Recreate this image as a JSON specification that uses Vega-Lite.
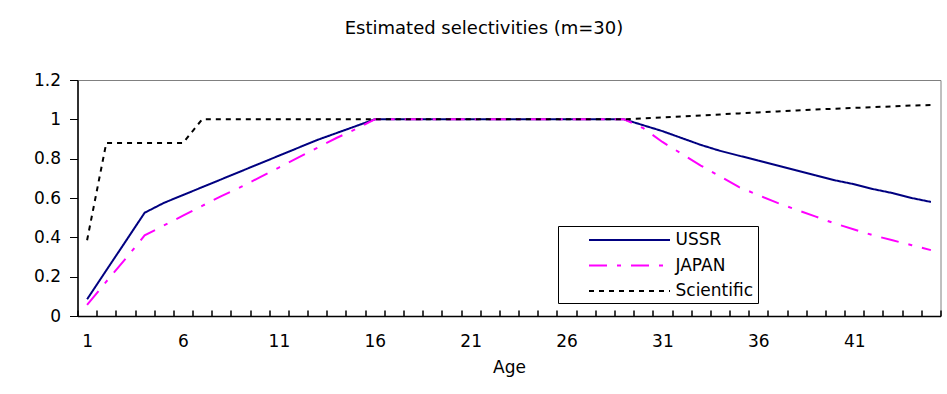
{
  "$schema": "https://vega.github.io/schema/vega-lite/v6.json",
  "width": 863,
  "height": 236,
  "autosize": {"type": "none"},
  "padding": {"left": 77.5, "top": 80, "right": 6.5, "bottom": 78},
  "background": "white",
  "title": {"text": "Estimated selectivities (m=30)", "font": "DejaVu Sans", "fontSize": 18, "fontWeight": "normal", "color": "black", "anchor": "middle", "dx": -25, "offset": 33},
  "data": {"values": [
    {"Age": 1, "USSR": 0.085, "JAPAN": 0.056, "Scientific": 0.385},
    {"Age": 2, "USSR": 0.232, "JAPAN": 0.175, "Scientific": 0.88},
    {"Age": 3, "USSR": 0.378, "JAPAN": 0.29, "Scientific": 0.88},
    {"Age": 4, "USSR": 0.525, "JAPAN": 0.41, "Scientific": 0.88},
    {"Age": 5, "USSR": 0.575, "JAPAN": 0.46, "Scientific": 0.88},
    {"Age": 6, "USSR": 0.615, "JAPAN": 0.51, "Scientific": 0.88},
    {"Age": 7, "USSR": 0.655, "JAPAN": 0.56, "Scientific": 1.0},
    {"Age": 8, "USSR": 0.695, "JAPAN": 0.61, "Scientific": 1.0},
    {"Age": 9, "USSR": 0.735, "JAPAN": 0.655, "Scientific": 1.0},
    {"Age": 10, "USSR": 0.775, "JAPAN": 0.705, "Scientific": 1.0},
    {"Age": 11, "USSR": 0.815, "JAPAN": 0.755, "Scientific": 1.0},
    {"Age": 12, "USSR": 0.855, "JAPAN": 0.805, "Scientific": 1.0},
    {"Age": 13, "USSR": 0.895, "JAPAN": 0.855, "Scientific": 1.0},
    {"Age": 14, "USSR": 0.93, "JAPAN": 0.905, "Scientific": 1.0},
    {"Age": 15, "USSR": 0.965, "JAPAN": 0.95, "Scientific": 1.0},
    {"Age": 16, "USSR": 1.0, "JAPAN": 1.0, "Scientific": 1.0},
    {"Age": 17, "USSR": 1.0, "JAPAN": 1.0, "Scientific": 1.0},
    {"Age": 18, "USSR": 1.0, "JAPAN": 1.0, "Scientific": 1.0},
    {"Age": 19, "USSR": 1.0, "JAPAN": 1.0, "Scientific": 1.0},
    {"Age": 20, "USSR": 1.0, "JAPAN": 1.0, "Scientific": 1.0},
    {"Age": 21, "USSR": 1.0, "JAPAN": 1.0, "Scientific": 1.0},
    {"Age": 22, "USSR": 1.0, "JAPAN": 1.0, "Scientific": 1.0},
    {"Age": 23, "USSR": 1.0, "JAPAN": 1.0, "Scientific": 1.0},
    {"Age": 24, "USSR": 1.0, "JAPAN": 1.0, "Scientific": 1.0},
    {"Age": 25, "USSR": 1.0, "JAPAN": 1.0, "Scientific": 1.0},
    {"Age": 26, "USSR": 1.0, "JAPAN": 1.0, "Scientific": 1.0},
    {"Age": 27, "USSR": 1.0, "JAPAN": 1.0, "Scientific": 1.0},
    {"Age": 28, "USSR": 1.0, "JAPAN": 1.0, "Scientific": 1.0},
    {"Age": 29, "USSR": 1.0, "JAPAN": 1.0, "Scientific": 1.0},
    {"Age": 30, "USSR": 0.97, "JAPAN": 0.955, "Scientific": 1.005},
    {"Age": 31, "USSR": 0.94, "JAPAN": 0.885, "Scientific": 1.01},
    {"Age": 32, "USSR": 0.905, "JAPAN": 0.825, "Scientific": 1.015},
    {"Age": 33, "USSR": 0.87, "JAPAN": 0.765, "Scientific": 1.02},
    {"Age": 34, "USSR": 0.84, "JAPAN": 0.71, "Scientific": 1.025},
    {"Age": 35, "USSR": 0.815, "JAPAN": 0.655, "Scientific": 1.03},
    {"Age": 36, "USSR": 0.79, "JAPAN": 0.615, "Scientific": 1.035},
    {"Age": 37, "USSR": 0.765, "JAPAN": 0.575, "Scientific": 1.04},
    {"Age": 38, "USSR": 0.74, "JAPAN": 0.54, "Scientific": 1.045},
    {"Age": 39, "USSR": 0.715, "JAPAN": 0.505, "Scientific": 1.05},
    {"Age": 40, "USSR": 0.69, "JAPAN": 0.47, "Scientific": 1.054},
    {"Age": 41, "USSR": 0.67, "JAPAN": 0.44, "Scientific": 1.058},
    {"Age": 42, "USSR": 0.645, "JAPAN": 0.41, "Scientific": 1.062},
    {"Age": 43, "USSR": 0.625, "JAPAN": 0.385, "Scientific": 1.066},
    {"Age": 44, "USSR": 0.6, "JAPAN": 0.36, "Scientific": 1.07},
    {"Age": 45, "USSR": 0.58, "JAPAN": 0.335, "Scientific": 1.073}
  ]},
  "transform": [{"fold": ["USSR", "JAPAN", "Scientific"], "as": ["Series", "Value"]}],
  "mark": {"type": "line", "strokeWidth": 2, "clip": false},
  "encoding": {
    "x": {
      "field": "Age", "type": "quantitative",
      "scale": {"domain": [0.5, 45.5], "nice": false, "zero": false},
      "axis": {
        "values": [0.5,1.5,2.5,3.5,4.5,5.5,6.5,7.5,8.5,9.5,10.5,11.5,12.5,13.5,14.5,15.5,16.5,17.5,18.5,19.5,20.5,21.5,22.5,23.5,24.5,25.5,26.5,27.5,28.5,29.5,30.5,31.5,32.5,33.5,34.5,35.5,36.5,37.5,38.5,39.5,40.5,41.5,42.5,43.5,44.5,45.5],
        "labelExpr": "(datum.value - 0.5) % 5 == 0 && datum.value < 45 ? format(datum.value + 0.5, 'd') : ''",
        "labelOffset": 9.6,
        "tickSize": -6,
        "tickColor": "#000000",
        "tickWidth": 1.5,
        "labelPadding": 23,
        "labelOverlap": false,
        "labelBound": false,
        "labelFlush": false,
        "grid": false,
        "domainColor": "black",
        "domainWidth": 1.5,
        "labelFont": "DejaVu Sans",
        "labelFontSize": 17,
        "labelColor": "black",
        "title": "Age",
        "titleFont": "DejaVu Sans",
        "titleFontSize": 17,
        "titleFontWeight": "normal",
        "titleColor": "black",
        "titlePadding": 10
      }
    },
    "y": {
      "field": "Value", "type": "quantitative",
      "scale": {"domain": [0, 1.2], "nice": false},
      "axis": {
        "values": [0, 0.2, 0.4, 0.6, 0.8, 1, 1.2],
        "format": "~g",
        "tickSize": 8,
        "tickColor": "black",
        "labelPadding": 9,
        "grid": false,
        "domainColor": "black",
        "domainWidth": 1.5,
        "labelFont": "DejaVu Sans",
        "labelFontSize": 17,
        "labelColor": "black",
        "title": null
      }
    },
    "color": {
      "field": "Series", "type": "nominal",
      "scale": {"domain": ["USSR", "JAPAN", "Scientific"], "range": ["#000080", "#FF00FF", "#000000"]},
      "legend": {"orient": "none", "legendX": 480.5, "legendY": 146, "title": null, "strokeColor": "black", "fillColor": "white", "padding": 4, "symbolType": "M-4.5,0H4.5", "symbolSize": 324, "symbolStrokeWidth": 2, "symbolOffset": 57.5, "labelOffset": 36, "labelFont": "DejaVu Sans", "labelFontSize": 17, "labelColor": "black", "rowPadding": 7.5}
    },
    "strokeDash": {
      "field": "Series", "type": "nominal",
      "scale": {"domain": ["USSR", "JAPAN", "Scientific"], "range": [[1, 0], [18, 10, 4, 10], [5, 5]]},
      "legend": {"orient": "none", "legendX": 480.5, "legendY": 146, "title": null, "strokeColor": "black", "fillColor": "white", "padding": 4, "symbolType": "M-4.5,0H4.5", "symbolSize": 324, "symbolStrokeWidth": 2, "symbolOffset": 57.5, "labelOffset": 36, "labelFont": "DejaVu Sans", "labelFontSize": 17, "labelColor": "black", "rowPadding": 7.5}
    }
  },
  "config": {"view": {"stroke": "#808080", "strokeWidth": 1}}
}
